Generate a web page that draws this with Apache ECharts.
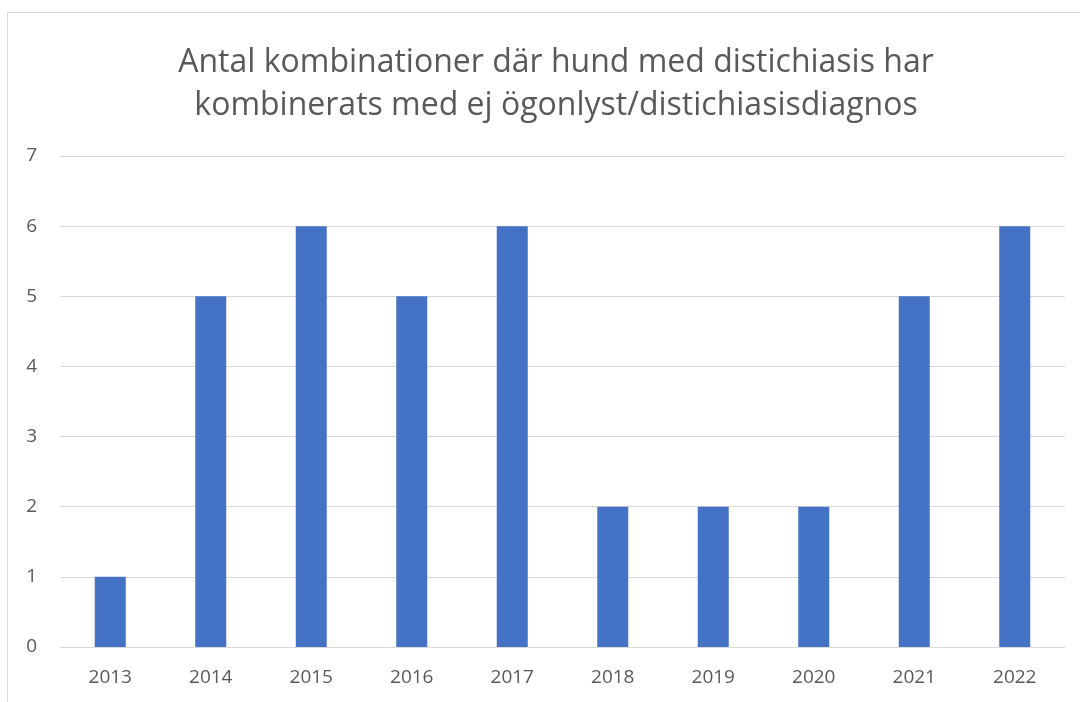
<!DOCTYPE html>
<html>
<head>
<meta charset="utf-8" />
<title>Distichiasis</title>
<style type="text/css">
body{ margin:0; background:#fff; }
#main{ width:1080px; height:702px; }
</style>
</head>
<body>
<div id="main"></div>
<script src="https://cdn.jsdelivr.net/npm/echarts@6/dist/echarts.min.js"></script>
<script type="text/javascript">
// år och antal kombinationer
var years = ['2013','2014','2015','2016','2017','2018','2019','2020','2021','2022'];
var counts = [1, 5, 6, 5, 6, 2, 2, 2, 5, 6];
var yTicks = [0, 1, 2, 3, 4, 5, 6, 7];

var textColor = '#595959';
var font = 'Open Sans';

var chart = echarts.init(document.getElementById('main'));

var option = {
    animation: false,
    title: {
        text: 'Antal kombinationer där hund med distichiasis har\nkombinerats med ej ögonlyst/distichiasisdiagnos',
        left: 551,
        top: 36,
        textAlign: 'center',
        textStyle: {
            color: textColor,
            fontFamily: font,
            fontWeight: 'normal',
            fontSize: 32,
            lineHeight: 43
        }
    },
    graphic: [{
        type: 'rect',
        shape: { x: 7.5, y: 12.5, width: 1200, height: 800 },
        style: { fill: null, stroke: '#d9d9d9', lineWidth: 1 },
        silent: true
    }],
    grid: {
        left: 60,
        right: 15,
        top: 156,
        bottom: 55,
        containLabel: false
    },
    xAxis: {
        type: 'category',
        data: years,
        axisLine: { show: true, lineStyle: { color: '#d9d9d9', width: 1 } },
        axisTick: { show: false },
        axisLabel: {
            color: textColor,
            fontFamily: font,
            fontSize: 19,
            margin: 21
        }
    },
    yAxis: {
        type: 'value',
        min: yTicks[0],
        max: yTicks[yTicks.length - 1],
        interval: 1,
        axisLine: { show: false },
        axisTick: { show: false },
        splitLine: { lineStyle: { color: '#d9d9d9', width: 1 } },
        axisLabel: {
            color: textColor,
            fontFamily: font,
            fontSize: 19,
            margin: 23
        }
    },
    series: [{
        type: 'bar',
        data: counts,
        barWidth: 31,
        itemStyle: { color: '#4472c4' }
    }]
};

chart.setOption(option);
</script>
</body>
</html>
